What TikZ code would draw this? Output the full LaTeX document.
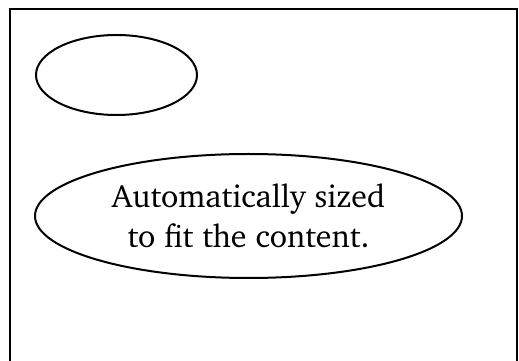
\documentclass[tikz,border=0pt]{standalone}
\usepackage[T1]{fontenc}
\usepackage{charter}
\usetikzlibrary{shapes.geometric}
\tikzset{
  oval/.style={draw, ellipse, line width=2pt, inner sep=0pt},
  frame/.style={draw, line width=2.4pt}
}
\begin{document}
\begin{tikzpicture}[x=1pt,y=1pt]
\useasboundingbox (0,0) rectangle (519,361);
\clip (0,0) rectangle (519,361);
\draw[frame] (10,352) rectangle (517,-20);
\node[oval, minimum width=161pt, minimum height=80pt] (small) at (116.5,286) {};
\node[oval, minimum width=427pt, minimum height=124pt, align=center,
      font=\fontsize{32}{40}\selectfont] (big) at (248.5,145)
  {Automatically sized\\to fit the content.};
\end{tikzpicture}
\end{document}
